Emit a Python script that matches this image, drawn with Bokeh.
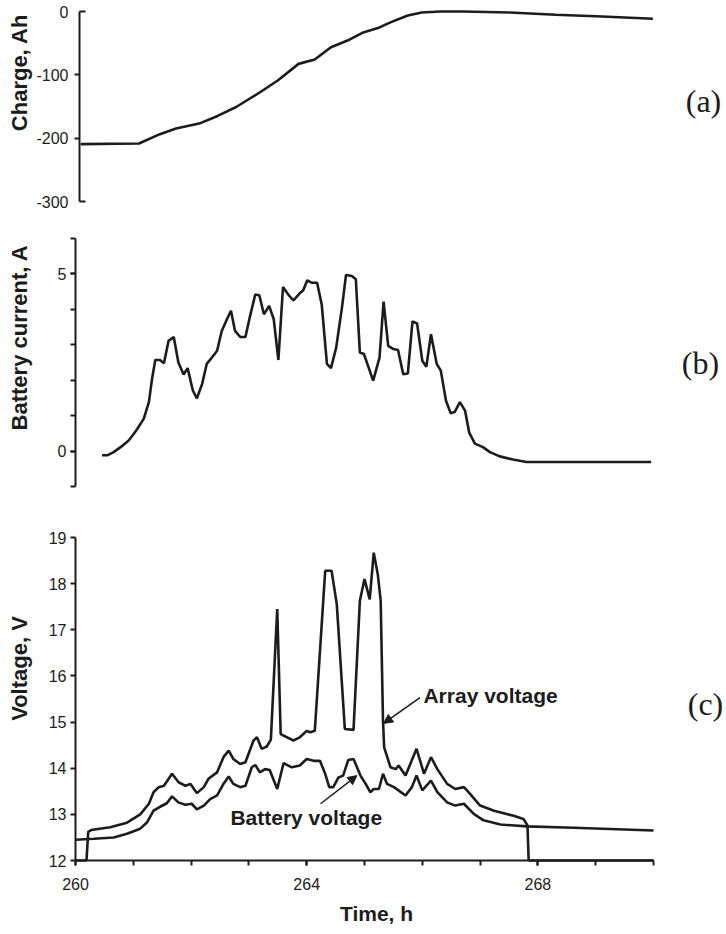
import math
from bokeh.plotting import figure
from bokeh.models import Label, Arrow, NormalHead, FixedTicker, Range1d, LinearAxis
from bokeh.layouts import column
from bokeh.embed import file_html
from bokeh.resources import INLINE

# ---------------- data ----------------
charge_t = [260.02, 261.03, 261.39, 261.67, 262.07, 262.39, 262.71, 263.11, 263.43, 263.79,
            264.07, 264.35, 264.67, 264.91, 265.19, 265.39, 265.68, 265.92, 266.24, 266.64,
            267.44, 268.24, 269.04, 269.92]
charge_ah = [-209.4, -208.4, -193.7, -184.8, -177.0, -164.9, -150.8, -128.3, -108.9, -82.7,
             -75.9, -56.5, -44.5, -33.0, -25.1, -16.8, -6.3, -1.6, 0.0, 0.0,
             -1.6, -5.2, -7.9, -11.5]

current_t = [260.46, 260.55, 260.66, 260.78, 260.92, 261.01, 261.07, 261.18, 261.27, 261.32,
             261.38, 261.46, 261.53, 261.61, 261.70, 261.78, 261.87, 261.94, 262.03, 262.10,
             262.19, 262.27, 262.36, 262.45, 262.53, 262.62, 262.69, 262.76, 262.85, 262.94,
             263.02, 263.11, 263.18, 263.26, 263.35, 263.43, 263.51, 263.59, 263.68, 263.77,
             263.89, 263.94, 264.01, 264.09, 264.18, 264.26, 264.35, 264.42, 264.51, 264.61,
             264.68, 264.78, 264.85, 264.92, 264.99, 265.15, 265.26, 265.33, 265.41, 265.50,
             265.58, 265.67, 265.75, 265.83, 265.91, 266.00, 266.07, 266.15, 266.25, 266.32,
             266.41, 266.49, 266.56, 266.65, 266.74, 266.81, 266.91, 267.05, 267.17, 267.34,
             267.57, 267.80, 269.96]
current_a = [-0.12, -0.12, -0.03, 0.11, 0.30, 0.49, 0.63, 0.91, 1.38, 1.99,
             2.57, 2.57, 2.48, 3.11, 3.22, 2.50, 2.16, 2.34, 1.71, 1.49,
             1.89, 2.46, 2.64, 2.83, 3.39, 3.72, 3.96, 3.39, 3.22, 3.22,
             3.81, 4.42, 4.40, 3.86, 4.10, 3.72, 2.57, 4.63, 4.42, 4.25,
             4.47, 4.54, 4.82, 4.75, 4.75, 4.14, 2.46, 2.34, 2.92, 4.05,
             4.97, 4.94, 4.85, 2.78, 2.74, 1.99, 2.64, 4.22, 2.97, 2.88,
             2.85, 2.17, 2.19, 3.66, 3.60, 2.55, 2.38, 3.30, 2.46, 2.27,
             1.42, 1.07, 1.10, 1.38, 1.14, 0.53, 0.21, 0.11, -0.03, -0.15,
             -0.24, -0.31, -0.31]

array_t = [260.0, 260.19, 260.22, 260.27, 260.6, 260.89, 261.12, 261.27, 261.35, 261.44,
           261.53, 261.67, 261.78, 261.90, 261.99, 262.10, 262.22, 262.30, 262.45, 262.56,
           262.65, 262.73, 262.85, 262.94, 263.08, 263.14, 263.22, 263.31, 263.38, 263.49,
           263.55, 263.77, 263.88, 264.0, 264.06, 264.14, 264.32, 264.43, 264.52, 264.66,
           264.81, 264.92, 265.0, 265.09, 265.16, 265.23, 265.28, 265.32, 265.34, 265.45,
           265.54, 265.59, 265.71, 265.90, 266.03, 266.15, 266.26, 266.43, 266.57, 266.72,
           266.80, 267.0, 267.24, 267.58, 267.75, 267.82, 267.84, 270.0]
array_v = [12.0, 12.0, 12.62, 12.66, 12.72, 12.82, 13.0, 13.23, 13.48, 13.59,
           13.62, 13.88, 13.70, 13.62, 13.66, 13.46, 13.59, 13.77, 13.91, 14.24,
           14.38, 14.20, 14.09, 14.13, 14.60, 14.67, 14.42, 14.47, 14.62, 17.45,
           14.74, 14.60, 14.67, 14.81, 14.78, 14.81, 18.28, 18.28, 17.56, 14.85,
           14.83, 17.63, 18.10, 17.66, 18.67, 18.2, 17.63, 15.03, 14.45, 14.02,
           13.98, 14.06, 13.84, 14.42, 13.88, 14.24, 13.98, 13.66, 13.55, 13.59,
           13.48, 13.19, 13.08, 12.97, 12.90, 12.76, 12.0, 12.0]

battery_t = [260.0, 260.32, 260.66, 260.89, 261.12, 261.24, 261.35, 261.47, 261.58, 261.67,
             261.78, 261.90, 262.01, 262.10, 262.22, 262.33, 262.45, 262.56, 262.65, 262.73,
             262.85, 262.94, 263.05, 263.11, 263.19, 263.28, 263.36, 263.49, 263.60, 263.74,
             263.88, 264.0, 264.12, 264.23, 264.32, 264.39, 264.46, 264.55, 264.63, 264.72,
             264.81, 264.87, 264.93, 265.02, 265.10, 265.16, 265.25, 265.32, 265.39, 265.51,
             265.71, 265.82, 265.90, 266.0, 266.15, 266.26, 266.43, 266.57, 266.72, 266.89,
             267.06, 267.35, 267.81, 268.62, 270.0]
battery_v = [12.45, 12.47, 12.5, 12.58, 12.69, 12.83, 13.08, 13.17, 13.24, 13.39,
             13.26, 13.21, 13.23, 13.11, 13.19, 13.33, 13.41, 13.66, 13.82, 13.66,
             13.59, 13.62, 14.02, 14.07, 13.91, 13.98, 13.96, 13.55, 14.11, 14.02,
             14.06, 14.20, 14.16, 14.16, 13.88, 13.59, 13.59, 13.80, 13.84, 14.18,
             14.20, 14.02, 13.84, 13.66, 13.48, 13.55, 13.55, 13.88, 13.66, 13.59,
             13.41, 13.59, 13.84, 13.52, 13.73, 13.48, 13.26, 13.19, 13.23, 13.01,
             12.87, 12.78, 12.74, 12.71, 12.65]

charge_mid_ticks = [-200, -100]
charge_mid_labels = ["-200", "-100"]
charge_end_ticks = [-300, 0]
charge_end_labels = ["-300", "0"]
current_ticks = [0, 5]
current_minor = [-1, 0, 1, 2, 3, 4, 5, 6]
voltage_ticks = [12, 13, 14, 15, 16, 17, 18, 19]
time_ticks = [260, 264, 268]
time_minor = [260, 261, 262, 263, 264, 265, 266, 267, 268, 269, 270]

# ---------------- style / geometry ----------------
INK = "#1c1c1c"
SANS = "Liberation Sans"
SERIF = "Liberation Serif"
LW = 2.6
W = 725
PX_PER_H = 57.8


def make_fig(height, axis_px, y_bottom, y_top):
    x0 = 260 - axis_px / PX_PER_H
    p = figure(width=W, height=height, output_backend="svg", toolbar_location=None,
               title=None, x_range=Range1d(x0, x0 + W / PX_PER_H),
               y_range=Range1d(y_bottom, y_top),
               min_border=0, min_border_left=0, min_border_right=0,
               min_border_top=0, min_border_bottom=0, x_axis_location=None)
    p.outline_line_color = None
    p.xgrid.visible = False
    p.ygrid.visible = False
    p.background_fill_color = "white"
    p.border_fill_color = "white"
    return p


def style_axis(ax, standoff):
    ax.axis_line_color = INK
    ax.axis_line_width = 2
    ax.major_tick_line_color = INK
    ax.major_tick_line_width = 2
    ax.minor_tick_line_color = INK
    ax.minor_tick_line_width = 2
    ax.major_tick_out = 5
    ax.major_tick_in = 0
    ax.minor_tick_out = 5
    ax.minor_tick_in = 0
    ax.major_label_text_font = SANS
    ax.major_label_text_font_size = "16px"
    ax.major_label_text_color = INK
    ax.major_label_standoff = standoff


def rot_title(p, x, y, text):
    p.add_layout(Label(x=x, y=y, text=text, angle=math.pi / 2, text_font=SANS,
                       text_font_size="22px", text_font_style="bold", text_color=INK,
                       text_align="center", text_baseline="middle"))


def panel_label(p, x, y, text):
    p.add_layout(Label(x=x, y=y, text=text, text_font=SERIF, text_font_size="32px",
                       text_color=INK, text_align="center", text_baseline="middle"))


def note(p, x, y, text, align="left"):
    p.add_layout(Label(x=x, y=y, text=text, text_font=SANS, text_font_size="21px",
                       text_font_style="bold", text_color=INK,
                       text_align=align, text_baseline="middle"))


# ---------------- (a) charge: page rows 0..225, y=0 at 11, y=-300 at 201 ----------------
ka = 190 / 300
pa = make_fig(225, 79, -(225 - 11) / ka, 11 / ka)
ya = pa.yaxis[0]
style_axis(ya, 6)
ya.fixed_location = 260
ya.bounds = (-300, 0)
ya.ticker = FixedTicker(ticks=charge_mid_ticks)
ya.major_label_overrides = dict(zip(charge_mid_ticks, charge_mid_labels))
ya_end = LinearAxis(fixed_location=260, ticker=FixedTicker(ticks=charge_end_ticks))
style_axis(ya_end, 11)
ya_end.axis_line_color = None
ya_end.major_tick_out = 0
ya_end.major_tick_in = 6
ya_end.major_label_overrides = dict(zip(charge_end_ticks, charge_end_labels))
pa.add_layout(ya_end, "left")
pa.line(charge_t, charge_ah, line_color=INK, line_width=LW)
rot_title(pa, 260 + (19 - 79) / PX_PER_H, -(72 - 11) / ka, "Charge, Ah")
panel_label(pa, 260 + (703 - 79) / PX_PER_H, -(100 - 11) / ka, "(a)")

# ---------------- (b) current: page rows 225..500, y=6 at 238, y=-1 at 486 ----------------
kb = 248 / 7
pb = make_fig(275, 75, 6 - (275 - 13) / kb, 6 + 13 / kb)
yb = pb.yaxis[0]
style_axis(yb, 4)
yb.fixed_location = 260
yb.bounds = (-1, 6)
yb.ticker = FixedTicker(ticks=current_ticks, minor_ticks=current_minor)
pb.line(current_t, current_a, line_color=INK, line_width=LW)
rot_title(pb, 260 + (19 - 75) / PX_PER_H, 6 - (337 - 238) / kb, "Battery current, A")
panel_label(pb, 260 + (700 - 75) / PX_PER_H, 6 - (362 - 238) / kb, "(b)")

# ---------------- (c) voltage: page rows 500..933, y=19 at 537, y=12 at 860 ----------------
kc = 323 / 7
pc = make_fig(433, 75, 19 - (433 - 37) / kc, 19 + 37 / kc)
yc = pc.yaxis[0]
style_axis(yc, 4)
yc.fixed_location = 260
yc.bounds = (12, 19)
yc.ticker = FixedTicker(ticks=voltage_ticks)
xc = LinearAxis(fixed_location=12, bounds=(260, 270),
                ticker=FixedTicker(ticks=time_ticks, minor_ticks=time_minor))
style_axis(xc, 12)
pc.add_layout(xc, "below")
pc.line(array_t, array_v, line_color=INK, line_width=LW)
pc.line(battery_t, battery_v, line_color=INK, line_width=LW)
rot_title(pc, 260 + (19 - 75) / PX_PER_H, 19 - (668 - 537) / kc, "Voltage, V")
panel_label(pc, 260 + (705 - 75) / PX_PER_H, 19 - (703 - 537) / kc, "(c)")
note(pc, 260 + (376 - 75) / PX_PER_H, 19 - (913 - 537) / kc, "Time, h", align="center")
note(pc, 266.02, 15.57, "Array voltage")
note(pc, 262.68, 12.94, "Battery voltage")
pc.add_layout(Arrow(end=NormalHead(size=9, fill_color=INK, line_color=INK),
                    x_start=265.96, y_start=15.53, x_end=265.33, y_end=14.97,
                    line_color=INK, line_width=1.5))
pc.add_layout(Arrow(end=NormalHead(size=9, fill_color=INK, line_color=INK),
                    x_start=264.24, y_start=13.23, x_end=264.87, y_end=13.84,
                    line_color=INK, line_width=1.5))

layout = column(pa, pb, pc, spacing=0)
open("out.html", "w").write(file_html(layout, INLINE))
